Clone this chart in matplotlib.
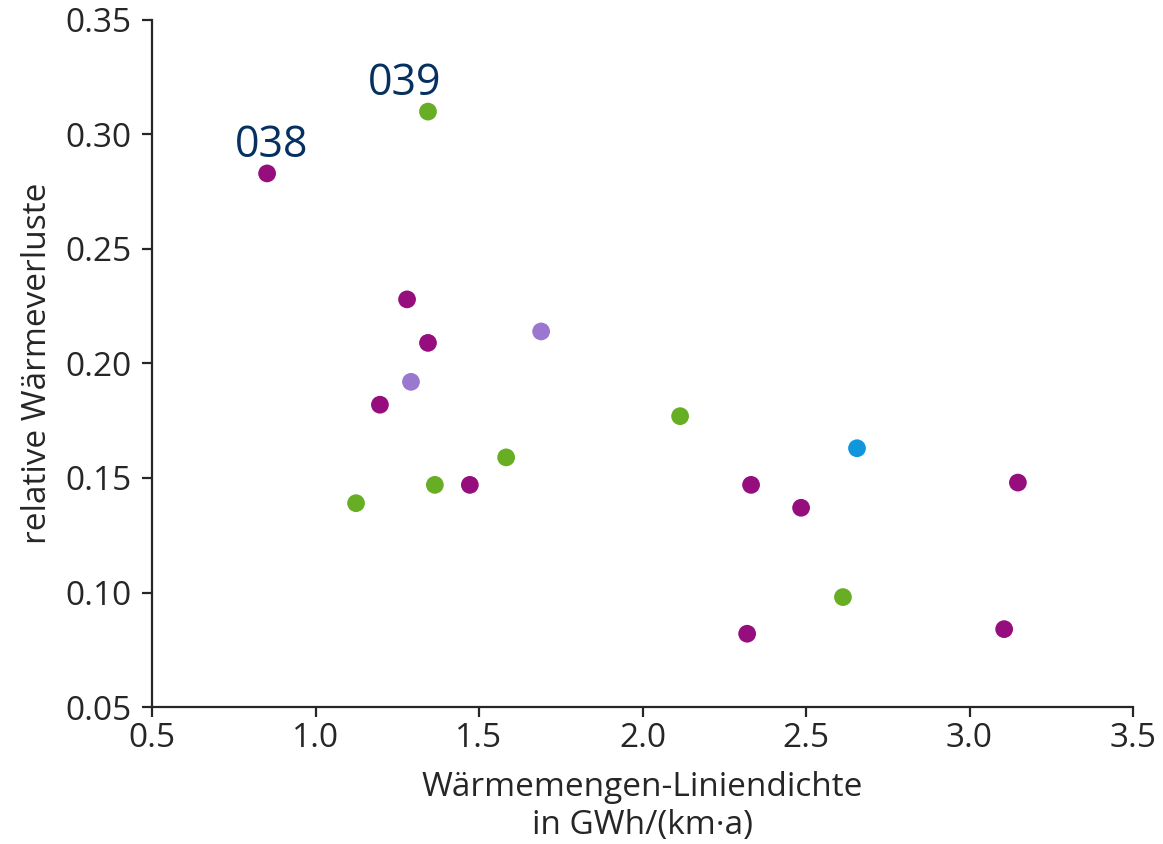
import matplotlib
matplotlib.use("Agg")
import matplotlib.pyplot as plt

plt.rcParams['font.family'] = ['Open Sans', 'DejaVu Sans']

# Heat density (GWh/(km·a)) vs. relative heat losses per network
x_vals = [0.852, 1.344, 1.280, 1.344, 1.690, 1.292, 1.197, 2.115, 2.656, 1.583,
          1.124, 1.365, 1.472, 2.332, 2.485, 3.148, 2.613, 2.320, 3.106]
y_vals = [0.283, 0.310, 0.228, 0.209, 0.214, 0.192, 0.182, 0.177, 0.163, 0.159,
          0.139, 0.147, 0.147, 0.147, 0.137, 0.148, 0.098, 0.082, 0.084]
groups = ['m', 'g', 'm', 'm', 'l', 'l', 'm', 'g', 'b', 'g',
          'g', 'g', 'm', 'm', 'm', 'm', 'g', 'm', 'm']
group_colors = {'m': '#960e7d', 'g': '#68ae24', 'l': '#9a78cf', 'b': '#0f96dd'}

# network IDs shown next to their points, with text offsets in points
labels = {0: ('038', (3, 12)), 1: ('039', (-17, 12))}

text_color = '#262626'

fig = plt.figure(figsize=(11.63, 8.44), dpi=100)
ax = fig.add_axes([152 / 1163, 1 - 707 / 844, (1133 - 152) / 1163, (707 - 20) / 844])

ax.scatter(x_vals, y_vals, c=[group_colors[g] for g in groups], s=190,
           edgecolors='white', linewidths=1.0, zorder=3)

for i, (txt, off) in labels.items():
    ax.annotate(txt, (x_vals[i], y_vals[i]), xytext=off, textcoords='offset points',
                ha='center', va='baseline', fontsize=31, color='#06305f')

ax.set_xlim(0.5, 3.5)
ax.set_ylim(0.05, 0.35)
ax.set_xticks([0.5, 1.0, 1.5, 2.0, 2.5, 3.0, 3.5])
ax.set_yticks([0.05, 0.10, 0.15, 0.20, 0.25, 0.30, 0.35])
ax.set_xticklabels(['0.5', '1.0', '1.5', '2.0', '2.5', '3.0', '3.5'])
ax.set_yticklabels(['0.05', '0.10', '0.15', '0.20', '0.25', '0.30', '0.35'])

ax.spines['top'].set_visible(False)
ax.spines['right'].set_visible(False)
for s in ('left', 'bottom'):
    ax.spines[s].set_linewidth(1.6)
    ax.spines[s].set_color(text_color)

ax.tick_params(axis='x', labelsize=24, colors=text_color, length=7, width=1.6, pad=4)
ax.tick_params(axis='y', labelsize=24, colors=text_color, length=7, width=1.6, pad=8)

ax.set_xlabel('Wärmemengen-Liniendichte\nin GWh/(km·a)', fontsize=24, color=text_color,
              labelpad=11, linespacing=1.22)
ax.set_ylabel('relative Wärmeverluste', fontsize=24, color=text_color, labelpad=8)

fig.savefig('out.png', dpi=100)
